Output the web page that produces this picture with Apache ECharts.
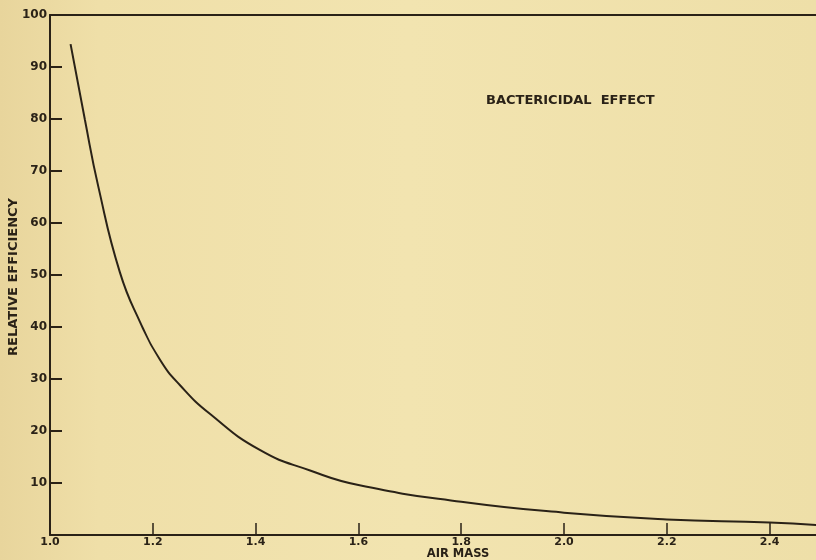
<!DOCTYPE html>
<html>
<head>
<meta charset="utf-8">
<script src="https://cdn.jsdelivr.net/npm/echarts@6/dist/echarts.min.js"></script>
<style>html,body{margin:0;padding:0;}#c{width:816px;height:560px;}</style>
</head>
<body>
<div id="c"></div>
<script>
// Data
const airMass = [1.04, 1.068, 1.094, 1.136, 1.175, 1.214, 1.253, 1.311, 1.409, 1.506, 1.6, 1.8, 2.0, 2.2, 2.4, 2.5];
const efficiency = [94.4, 79.8, 67.0, 50.5, 41.0, 33.7, 28.8, 23.3, 16.3, 12.4, 9.6, 6.4, 4.3, 3.0, 2.4, 1.85];
const xTickLabels = ['1.0', '1.2', '1.4', '1.6', '1.8', '2.0', '2.2', '2.4'];
const yTickLabels = ['', '10', '20', '30', '40', '50', '60', '70', '80', '90', '100'];
const chartLabel = 'BACTERICIDAL  EFFECT';
const xName = 'AIR MASS';
const yName = 'RELATIVE EFFICIENCY';

const ink = '#2a2217';
const font = 'DejaVu Sans';
const chart = echarts.init(document.getElementById('c'));
const points = airMass.map((x, i) => [x, efficiency[i]]);

chart.setOption({
  backgroundColor: {
    type: 'linear', x: 0, y: 0, x2: 1, y2: 0,
    colorStops: [
      {offset: 0, color: '#E8D59C'},
      {offset: 0.12, color: '#EFDFA8'},
      {offset: 0.5, color: '#F2E4B0'},
      {offset: 1, color: '#EEDFA8'}
    ]
  },
  animation: false,
  grid: {left: 50, top: 15, right: -5, bottom: 25, outerBoundsMode: 'none', containLabel: false},
  title: {
    text: chartLabel, left: 486, top: 94, padding: 0,
    textStyle: {fontFamily: font, fontWeight: 'bold', fontSize: 13, color: ink}
  },
  graphic: [{
    type: 'text', x: 458, y: 554,
    style: {text: xName, textAlign: 'center', textVerticalAlign: 'middle',
      font: 'bold 11.5px "DejaVu Sans"', fill: ink}
  }, {
    type: 'text', x: 14, y: 277, rotation: Math.PI / 2,
    style: {text: yName, textAlign: 'center', textVerticalAlign: 'middle',
      font: 'bold 13px "DejaVu Sans"', fill: ink}
  }],
  xAxis: [{
    type: 'value', min: 1.0, max: 2.5, interval: 0.2,
    axisLine: {show: true, onZero: false, lineStyle: {color: ink, width: 2}},
    axisTick: {show: true, inside: true, length: 12, lineStyle: {color: ink, width: 1.5}},
    splitLine: {show: false},
    axisLabel: {
      showMaxLabel: false, margin: 2, color: ink, fontFamily: font, fontWeight: 'bold', fontSize: 11,
      formatter: v => { const i = Math.round((v - 1.0) / 0.2); return Math.abs(v - (1.0 + i * 0.2)) < 1e-6 && xTickLabels[i] ? xTickLabels[i] : ''; }
    }
  }, {
    type: 'value', position: 'top', min: 1.0, max: 2.5,
    axisLine: {show: true, onZero: false, lineStyle: {color: ink, width: 2}},
    axisTick: {show: false}, axisLabel: {show: false}, splitLine: {show: false}
  }],
  yAxis: {
    type: 'value', min: 0, max: 100, interval: 10,
    axisLine: {show: true, lineStyle: {color: ink, width: 2}},
    axisTick: {show: true, inside: true, length: 12, lineStyle: {color: ink, width: 2}},
    splitLine: {show: false},
    axisLabel: {
      margin: 3, color: ink, fontFamily: font, fontWeight: 'bold', fontSize: 12,
      formatter: v => yTickLabels[Math.round(v / 10)] || ''
    }
  },
  series: [{
    type: 'line', data: points, smooth: 0.5, showSymbol: false,
    lineStyle: {color: ink, width: 2}
  }]
});
</script>
</body>
</html>
